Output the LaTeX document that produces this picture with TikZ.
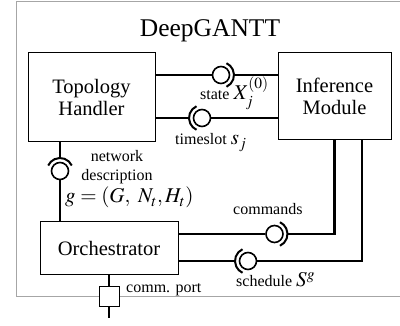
\documentclass[tikz,border=0pt]{standalone}
\usepackage{mathptmx}
\usepackage[no-math]{fontspec}
\setmainfont{Liberation Serif}
\newcommand\mathsz{\fontsize{21}{24}\selectfont}
\begin{document}
\begin{tikzpicture}[x=1pt, y=-1pt,
  box/.style={draw, line width=1pt, inner sep=0pt, align=center,
    font=\fontsize{20.5}{22}\selectfont},
  wire/.style={line width=2.6pt},
  ball/.style={circle, draw, line width=1.6pt, minimum size=17pt, inner sep=0pt},
  sock/.style={line width=2pt},
  lbl/.style={inner sep=0pt, anchor=base west, font=\fontsize{16}{18}\selectfont},
  mth/.style={font=\mathsz},
  frame/.style={draw=black!35, line width=1pt}]
\useasboundingbox (0,0) rectangle (400,326);

% outer frame (open towards the right edge)
\draw[frame] (405,2) -- (16,2) -- (16,297) -- (405,297);

\node[inner sep=0pt, anchor=base, font=\fontsize{25.5}{28}\selectfont] (title) at (210,37) {DeepGANTT};

% components
\node[box, minimum width=127pt, minimum height=89pt] (TH) at (91.5,97.5) {Topology\\Handler};
\node[box, minimum width=113pt, minimum height=87pt] (IM) at (334.5,96.5) {Inference\\Module};
\node[box, minimum width=138pt, minimum height=53pt] (OR) at (109,248.5) {Orchestrator};

% state: Topology Handler -> Inference Module
\node[ball] (b1) at (221,75) {};
\draw[sock] ([shift={(-65:13pt)}]b1.center) arc[start angle=-65, end angle=65, radius=13pt];
\coordinate (s1) at ([xshift=13pt]b1.center);
\draw[wire] (TH.east |- b1) -- (b1.west);
\draw[wire] (s1) -- (IM.west |- b1);

% timeslot: Inference Module -> Topology Handler
\node[ball] (b2) at (202,118) {};
\draw[sock] ([shift={(115:13pt)}]b2.center) arc[start angle=115, end angle=245, radius=13pt];
\coordinate (s2) at ([xshift=-13pt]b2.center);
\draw[wire] (TH.east |- b2) -- (s2);
\draw[wire] (b2.east) -- (IM.west |- b2);

% network description: Orchestrator -> Topology Handler
\node[ball] (b3) at (60,171) {};
\draw[sock] ([shift={(25:13pt)}]b3.center) arc[start angle=25, end angle=155, radius=13pt];
\coordinate (s3) at ([yshift=13pt]b3.center);
\draw[wire] (TH.south -| b3) -- (s3);
\draw[wire] (b3.south) -- (OR.north -| b3);

% commands: Inference Module -> Orchestrator
\node[ball] (b4) at (274.5,234) {};
\draw[sock] ([shift={(-65:13pt)}]b4.center) arc[start angle=-65, end angle=65, radius=13pt];
\coordinate (s4) at ([xshift=13pt]b4.center);
\draw[wire] (OR.east |- b4) -- (b4.west);
\draw[wire] (s4) -| (IM.south);

% schedule: Inference Module -> Orchestrator
\node[ball] (b5) at (248,261) {};
\draw[sock] ([shift={(115:13pt)}]b5.center) arc[start angle=115, end angle=245, radius=13pt];
\coordinate (s5) at ([xshift=-13pt]b5.center);
\draw[wire] (OR.east |- b5) -- (s5);
\draw[wire] (b5.east) -| ([xshift=27.5pt]IM.south);

% communication port
\node[draw, fill=white, line width=1pt, minimum size=20pt, inner sep=0pt] (port) at (109,297) {};
\coordinate (ext) at (109,318);
\draw[wire] (OR.south) -- (port.north);
\draw[wire] (port.south) -- (ext);

% labels
\node[lbl] (lstate) at (200,100) {state {\mathsz$X^{(0)}_j$}};
\node[lbl] (lslot) at (175,145) {timeslot {\mathsz$s_j$}};
\node[lbl, anchor=base] (lnet1) at (117,162) {network};
\node[lbl, anchor=base] (lnet2) at (117,181) {description};
\node[lbl, mth] (lg) at (65,203) {$g = (G,\ N_t, H_t)$};
\node[lbl] (lcmd) at (233,215) {commands};
\node[lbl] (lsched) at (236,287) {schedule {\mathsz$S^g$}};
\node[lbl] (lport) at (126,293) {comm. port};
\end{tikzpicture}
\end{document}
